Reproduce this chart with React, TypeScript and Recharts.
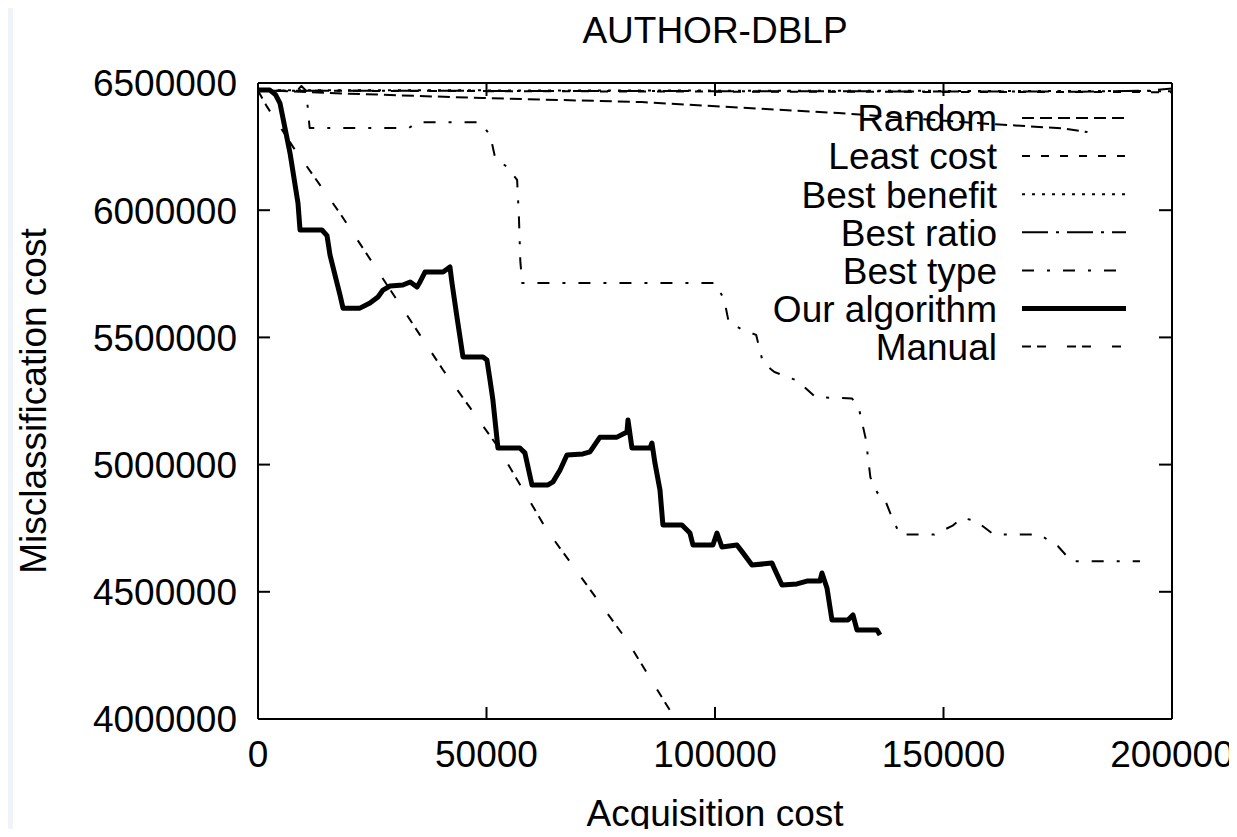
import React from 'react';
import { LineChart, Line, XAxis, YAxis, Label, Legend } from 'recharts';

// axis ticks
const X_TICKS = [0, 50000, 100000, 150000, 200000];
const Y_TICKS = [4000000, 4500000, 5000000, 5500000, 6000000, 6500000];

// [acquisition cost, misclassification cost]
const RANDOM: [number, number][] = [
  [0, 6472000], [20000, 6458000], [49000, 6441000], [84000, 6425000],
  [127000, 6382000], [160000, 6339000], [176000, 6322000], [181500, 6307000],
];

const LEAST_COST: [number, number][] = [
  [0, 6470000], [50000, 6468000], [100000, 6466000], [150000, 6465000], [200000, 6464000],
];

const BEST_BENEFIT: [number, number][] = [
  [0, 6472000], [100000, 6470000], [200000, 6468000],
];

const BEST_RATIO: [number, number][] = [
  [0, 6470000], [100000, 6468000], [180000, 6466000], [195000, 6470000], [200000, 6478000],
];

const BEST_TYPE: [number, number][] = [
  [0, 6470000], [8500, 6470000], [9500, 6488000], [10500, 6470000], [10800, 6420000],
  [11300, 6323000], [33000, 6323000], [35000, 6346000], [48500, 6346000], [50800, 6296000],
  [51900, 6205000], [54500, 6170000], [56700, 6119000], [57100, 5969000], [57400, 5800000],
  [57800, 5714000], [100000, 5714000], [102000, 5650000], [103000, 5560000], [106000, 5530000],
  [109000, 5510000], [110500, 5400000], [113000, 5364000], [118000, 5330000], [122000, 5265000],
  [130000, 5260000], [131500, 5220000], [133000, 5100000], [134000, 4950000], [135500, 4890000],
  [137000, 4870000], [139000, 4780000], [140500, 4725000], [148000, 4725000], [152000, 4760000],
  [154000, 4790000], [157000, 4780000], [161000, 4725000], [171000, 4725000], [175000, 4680000],
  [178000, 4620000], [193000, 4620000],
];

const OUR_ALGORITHM: [number, number][] = [
  [0, 6472000], [2600, 6472000], [3800, 6455000], [4800, 6421000], [7000, 6225000],
  [8750, 6028000], [9200, 5922000], [14000, 5922000], [15100, 5900000], [15750, 5824000],
  [16850, 5745000], [17940, 5667000], [18600, 5615000], [22300, 5615000], [24500, 5635000],
  [26250, 5659000], [27350, 5686000], [28900, 5702000], [31700, 5706000], [33300, 5718000],
  [34800, 5698000], [35450, 5718000], [36540, 5757000], [40500, 5757000], [42000, 5777000],
  [42450, 5714000], [43540, 5580000], [44850, 5423000], [49230, 5423000], [50100, 5411000],
  [50760, 5333000], [51400, 5254000], [52500, 5065000], [57300, 5065000], [58400, 5046000],
  [59950, 4920000], [63450, 4920000], [64550, 4932000], [66100, 4979000], [67600, 5038000],
  [71100, 5042000], [72640, 5050000], [74830, 5108000], [78550, 5108000], [80740, 5128000],
  [80960, 5175000], [81830, 5065000], [85770, 5065000], [86200, 5085000], [86860, 5006000],
  [87960, 4900000], [88600, 4763000], [92770, 4763000], [94520, 4731000], [95180, 4684000],
  [99550, 4684000], [100430, 4731000], [101520, 4676000], [104800, 4684000], [106120, 4653000],
  [108090, 4605000], [112460, 4613000], [113120, 4586000], [114650, 4527000], [117930, 4531000],
  [120120, 4542000], [122970, 4542000], [123400, 4574000], [124500, 4515000], [125600, 4389000],
  [129090, 4389000], [130190, 4409000], [131060, 4350000], [135440, 4350000], [136100, 4330000],
];

const MANUAL: [number, number][] = [
  [0, 6470000], [2000, 6406000], [7700, 6248000], [17900, 5989000], [30400, 5647000],
  [40500, 5372000], [52300, 5075000], [63200, 4743000], [74800, 4456000], [80700, 4310000],
  [91300, 4000000],
];

const SERIES = [
  { name: 'Random', pts: RANDOM, dash: '12 6', width: 2 },
  { name: 'Least cost', pts: LEAST_COST, dash: '8 11', width: 2 },
  { name: 'Best benefit', pts: BEST_BENEFIT, dash: '3 7', width: 2 },
  { name: 'Best ratio', pts: BEST_RATIO, dash: '26 8 3 8', width: 2 },
  { name: 'Best type', pts: BEST_TYPE, dash: '12 13 3 13', width: 2 },
  { name: 'Our algorithm', pts: OUR_ALGORITHM, dash: undefined, width: 5 },
  { name: 'Manual', pts: MANUAL, dash: '9 6 9 21', width: 2 },
];

const FONT = '"Liberation Sans", Arial, Helvetica, sans-serif';
const FS = 37;
const TICK = 12;

const toRows = (pts: [number, number][]) => pts.map(([x, y]) => ({ x, y }));

// tick label plus an inward tick mark (gnuplot style)
const LeftTick = (props: any) => {
  const { x, y, payload } = props;
  return (
    <g>
      <line x1={x + 21} x2={x + 21 + TICK} y1={y} y2={y} stroke="#000" strokeWidth={2} />
      <text x={x} y={y} dy="0.36em" textAnchor="end" fontSize={FS} fontFamily={FONT} fill="#000">
        {payload.value}
      </text>
    </g>
  );
};

const BottomTick = (props: any) => {
  const { x, y, payload } = props;
  return (
    <g>
      <line x1={x} x2={x} y1={y - 22} y2={y - 22 - TICK} stroke="#000" strokeWidth={2} />
      <text x={x} y={y} dy="0.71em" textAnchor="middle" fontSize={FS} fontFamily={FONT} fill="#000">
        {payload.value}
      </text>
    </g>
  );
};

// top / right axes have size 1, so their tick anchor sits on the frame line
const TopTick = (props: any) => {
  const { x, y } = props;
  return <line x1={x} x2={x} y1={y + 1} y2={y + 1 + TICK} stroke="#000" strokeWidth={2} />;
};

const RightTick = (props: any) => {
  const { x, y } = props;
  return <line x1={x - 1} x2={x - 1 - TICK} y1={y} y2={y} stroke="#000" strokeWidth={2} />;
};

const renderLegend = () => (
  <svg width={1237} height={837} style={{ position: 'absolute', left: 0, top: 0 }}>
    {SERIES.map((s, i) => {
      const cy = 118 + i * 38.1;
      return (
        <g key={s.name}>
          <text x={997} y={cy} dy="0.36em" textAnchor="end" fontSize={FS} fontFamily={FONT} fill="#000">
            {s.name}
          </text>
          <line
            x1={1022}
            x2={1126}
            y1={cy}
            y2={cy}
            stroke="#000"
            strokeWidth={s.width}
            strokeDasharray={s.dash}
          />
        </g>
      );
    })}
  </svg>
);

export default function App() {
  return (
    <div style={{ position: 'relative', width: 1237, height: 837, margin: -8, background: '#f0f4f9', fontFamily: FONT }}>
      <div style={{ position: 'absolute', left: 13, top: 6, right: 2, bottom: 0, background: '#fff' }} />
      <div
        style={{
          position: 'absolute',
          left: 258,
          width: 914,
          top: 12,
          textAlign: 'center',
          fontSize: FS,
          lineHeight: '37px',
          color: '#000',
        }}
      >
        AUTHOR-DBLP
      </div>
      <div style={{ position: 'absolute', left: 0, top: 0 }}>
        <LineChart width={1237} height={837} margin={{ top: 82, right: 64, bottom: 0, left: 0 }}>
          <XAxis
            type="number"
            dataKey="x"
            domain={[0, 200000]}
            ticks={X_TICKS}
            interval={0}
            allowDataOverflow
            height={118}
            tickSize={0}
            tickMargin={22}
            tick={<BottomTick />}
            axisLine={{ stroke: '#000', strokeWidth: 2 }}
          >
            <Label
              content={(p: any) => (
                <text
                  x={p.viewBox.x + p.viewBox.width / 2}
                  y={813}
                  dy="0.36em"
                  textAnchor="middle"
                  fontSize={FS}
                  fontFamily={FONT}
                  fill="#000"
                >
                  Acquisition cost
                </text>
              )}
            />
          </XAxis>
          <XAxis
            xAxisId="top"
            orientation="top"
            type="number"
            dataKey="x"
            domain={[0, 200000]}
            ticks={X_TICKS}
            interval={0}
            allowDataOverflow
            height={1}
            tickSize={0}
            tickMargin={0}
            tick={<TopTick />}
            axisLine={{ stroke: '#000', strokeWidth: 2 }}
          />
          <YAxis
            type="number"
            domain={[4000000, 6500000]}
            ticks={Y_TICKS}
            interval={0}
            allowDataOverflow
            width={258}
            tickSize={0}
            tickMargin={21}
            tick={<LeftTick />}
            axisLine={{ stroke: '#000', strokeWidth: 2 }}
          >
            <Label
              content={(p: any) => {
                const cy = p.viewBox.y + p.viewBox.height / 2;
                return (
                  <text
                    x={33}
                    y={cy}
                    dy="0.36em"
                    textAnchor="middle"
                    fontSize={FS}
                    fontFamily={FONT}
                    fill="#000"
                    transform={`rotate(-90 33 ${cy})`}
                  >
                    Misclassification cost
                  </text>
                );
              }}
            />
          </YAxis>
          <YAxis
            yAxisId="right"
            orientation="right"
            type="number"
            domain={[4000000, 6500000]}
            ticks={Y_TICKS}
            interval={0}
            allowDataOverflow
            width={1}
            tickSize={0}
            tickMargin={0}
            tick={<RightTick />}
            axisLine={{ stroke: '#000', strokeWidth: 2 }}
          />
          <Legend
            layout="horizontal"
            verticalAlign="middle"
            align="center"
            content={renderLegend}
            wrapperStyle={{ left: 0, top: 0, width: 1237, height: 837, pointerEvents: 'none' }}
          />
          {/* invisible copy bound to the mirror axes so they get a domain */}
          <Line
            xAxisId="top"
            yAxisId="right"
            data={toRows(OUR_ALGORITHM)}
            dataKey="y"
            stroke="none"
            dot={false}
            activeDot={false}
            legendType="none"
            isAnimationActive={false}
          />
          {SERIES.map((s) => (
            <Line
              key={s.name}
              name={s.name}
              data={toRows(s.pts)}
              dataKey="y"
              type="linear"
              stroke="#000"
              strokeWidth={s.width}
              strokeDasharray={s.dash}
              strokeLinejoin="round"
              dot={false}
              activeDot={false}
              isAnimationActive={false}
            />
          ))}
        </LineChart>
      </div>
    </div>
  );
}
